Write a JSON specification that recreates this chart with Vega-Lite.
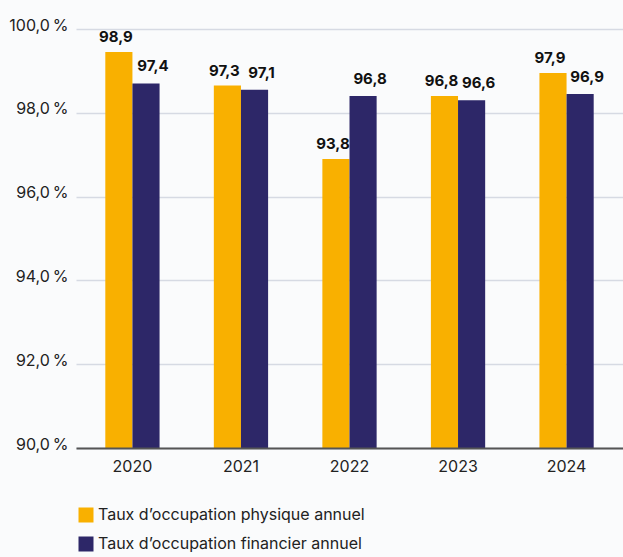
{
  "$schema": "https://vega.github.io/schema/vega-lite/v6.json",
  "width": 547,
  "height": 419,
  "autosize": {"type": "none"},
  "padding": {"left": 76, "top": 29, "right": 0, "bottom": 109},
  "background": "#fafbfc",
  "data": {
    "values": [
      {"year": "2020", "series": "Taux d’occupation physique annuel", "value": 98.9, "label": "98,9"},
      {"year": "2020", "series": "Taux d’occupation financier annuel", "value": 97.4, "label": "97,4"},
      {"year": "2021", "series": "Taux d’occupation physique annuel", "value": 97.3, "label": "97,3"},
      {"year": "2021", "series": "Taux d’occupation financier annuel", "value": 97.1, "label": "97,1"},
      {"year": "2022", "series": "Taux d’occupation physique annuel", "value": 93.8, "label": "93,8"},
      {"year": "2022", "series": "Taux d’occupation financier annuel", "value": 96.8, "label": "96,8"},
      {"year": "2023", "series": "Taux d’occupation physique annuel", "value": 96.8, "label": "96,8"},
      {"year": "2023", "series": "Taux d’occupation financier annuel", "value": 96.6, "label": "96,6"},
      {"year": "2024", "series": "Taux d’occupation physique annuel", "value": 97.9, "label": "97,9"},
      {"year": "2024", "series": "Taux d’occupation financier annuel", "value": 96.9, "label": "96,9"}
    ]
  },
  "encoding": {
    "x": {
      "field": "year",
      "type": "nominal",
      "scale": {"paddingInner": 0.5, "paddingOuter": 0.27},
      "axis": {
        "title": null,
        "labelAngle": 0,
        "labelFont": "Inter",
        "labelFontSize": 16,
        "labelColor": "#222222",
        "labelPadding": 10,
        "ticks": false,
        "domainColor": "#555555",
        "domainWidth": 2,
        "grid": false,
        "zindex": 1
      }
    },
    "xOffset": {
      "field": "series",
      "type": "nominal",
      "sort": ["Taux d’occupation physique annuel", "Taux d’occupation financier annuel"]
    },
    "y": {
      "field": "value",
      "type": "quantitative",
      "scale": {"domain": [80, 100], "nice": false, "zero": false},
      "axis": {
        "title": null,
        "values": [80, 84, 88, 92, 96, 100],
        "labelExpr": "replace(format(90 + (datum.value - 80) / 2, '.1f'), '.', ',') + '\u2009%'",
        "labelFont": "Inter",
        "labelFontSize": 16,
        "labelColor": "#222222",
        "labelPadding": 8,
        "labelOffset": -4,
        "ticks": false,
        "domain": false,
        "grid": true,
        "gridColor": "#d6dae3",
        "gridWidth": 1.5
      }
    }
  },
  "layer": [
    {
      "mark": {"type": "bar", "clip": true},
      "encoding": {
        "color": {
          "field": "series",
          "type": "nominal",
          "sort": ["Taux d’occupation physique annuel", "Taux d’occupation financier annuel"],
          "scale": {"range": ["#f9b000", "#2d2768"]},
          "legend": {
            "title": null,
            "orient": "none",
            "legendX": 2,
            "legendY": 478,
            "symbolType": "square",
            "symbolSize": 225,
            "symbolStrokeWidth": 0,
            "symbolOpacity": 1,
            "labelFont": "Inter",
            "labelFontSize": 16,
            "labelColor": "#222222",
            "rowPadding": 13,
            "labelOffset": 4,
            "padding": 0,
            "labelLimit": 400
          }
        }
      }
    },
    {
      "transform": [{"filter": "datum.series === 'Taux d’occupation physique annuel'"}],
      "mark": {
        "type": "text",
        "baseline": "alphabetic",
        "dy": -10,
        "dx": -3,
        "font": "Inter",
        "fontSize": 15,
        "fontWeight": "bold",
        "color": "#111111"
      },
      "encoding": {
        "text": {"field": "label", "type": "nominal"}
      }
    },
    {
      "transform": [{"filter": "datum.series === 'Taux d’occupation financier annuel'"}],
      "mark": {
        "type": "text",
        "baseline": "alphabetic",
        "dy": -12,
        "dx": 7,
        "font": "Inter",
        "fontSize": 15,
        "fontWeight": "bold",
        "color": "#111111"
      },
      "encoding": {
        "text": {"field": "label", "type": "nominal"}
      }
    }
  ],
  "config": {
    "view": {"stroke": null}
  }
}
